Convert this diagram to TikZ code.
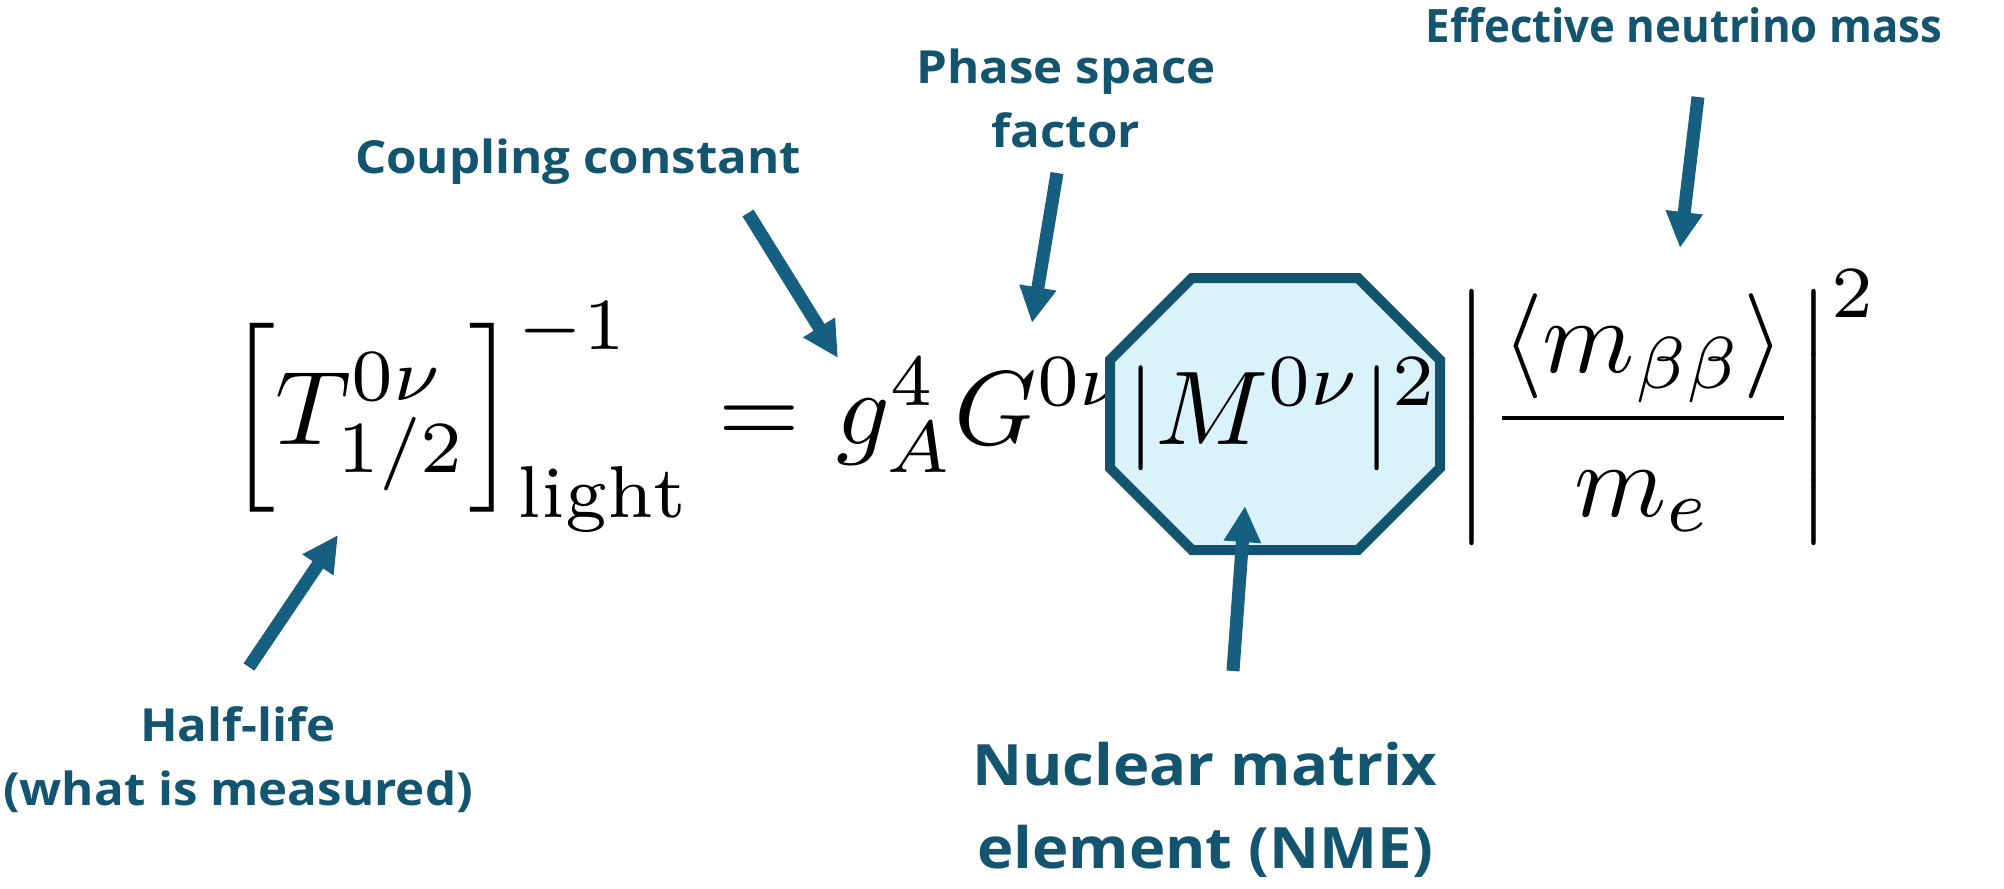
\documentclass[tikz,border=0pt]{standalone}
\usepackage{amsmath}
\usepackage{graphicx}
\usepackage{fontspec}
\newfontfamily\labfont{Open Sans}[FakeStretch=1.08]
\newfontfamily\efffont{Open Sans}[FakeStretch=0.95]
\usetikzlibrary{arrows.meta}
\definecolor{labtxt}{HTML}{13546F}
\definecolor{arrcol}{HTML}{165F80}
\definecolor{octline}{HTML}{14536E}
\definecolor{octfill}{HTML}{D9F2FC}
\newcommand\eqscale[1]{\scalebox{5.25}{\fontsize{10}{12}\selectfont #1}}
\tikzset{
  eq/.style={inner sep=0pt, anchor=base west},
  lab/.style={text=labtxt, inner sep=0pt, align=center, anchor=base,
    font=\labfont\bfseries\fontsize{22.8}{32}\selectfont},
  efflab/.style={lab, font=\efffont\bfseries\fontsize{23}{32}\selectfont},
  biglab/.style={lab, font=\labfont\bfseries\fontsize{28.5}{41.5}\selectfont},
  bigarrow/.style={draw=arrcol, line width=6.5pt,
    -{Triangle[width=17.5pt,length=18pt]}},
  octbox/.style={draw=octline, fill=octfill, line width=5pt, line join=miter}
}
\begin{document}
\begin{tikzpicture}[x=0.5pt,y=-0.5pt]
\useasboundingbox (0,0) rectangle (2004,889);
% equation
\node[eq] (eqL) at (226,444) {\eqscale{$\displaystyle\left[T^{0\nu}_{1/2}\right]^{-1}_{\mathrm{light}}$}};
\node[eq] (eqE) at (718,444) {\eqscale{$=$}};
\node[eq] (eqG) at (836,444) {\eqscale{$g_A^4G^{0\nu}$}};
\draw[octbox] (1192,278) -- (1358,278) -- (1440,360) -- (1440,468) -- (1358,550)
  -- (1192,550) -- (1110,468) -- (1110,360) -- cycle;
\node[eq] (eqM) at (1126,444) {\eqscale{$|M^{0\nu}|^2$}};
\node[eq] (eqF) at (1454,444) {\eqscale{$\displaystyle\biggl|\frac{\langle m_{\beta\beta}\rangle}{m_e}\biggr|^2$}};
% labels
\node[lab] (lCoup) at (578,173) {Coupling constant};
\node[lab] (lPhase) at (1066,147) {Phase space\\factor};
\node[efflab] (lEff) at (1684,42) {Effective neutrino mass};
\node[lab] (lHalf) at (238,805) {Half-life\\(what is measured)};
\node[biglab] (lNME) at (1205,868) {Nuclear matrix\\element (NME)};
% arrow ends
\coordinate (cCs) at (748,213);  \coordinate (cCt) at (838,358);
\coordinate (cPs) at (1057,173); \coordinate (cPt) at (1032,323);
\coordinate (cEs) at (1698,97);  \coordinate (cEt) at (1680,248);
\coordinate (cHs) at (249,667);  \coordinate (cHt) at (338,535);
\coordinate (cNs) at (1233,671); \coordinate (cNt) at (1245,506);
\draw[bigarrow] (cCs) -- (cCt);
\draw[bigarrow] (cPs) -- (cPt);
\draw[bigarrow] (cEs) -- (cEt);
\draw[bigarrow] (cHs) -- (cHt);
\draw[bigarrow] (cNs) -- (cNt);
\end{tikzpicture}
\end{document}
